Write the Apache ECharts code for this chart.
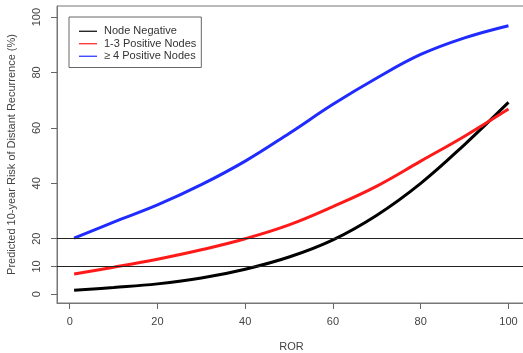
<!DOCTYPE html>
<html>
<head>
<meta charset="utf-8">
<script src="https://cdn.jsdelivr.net/npm/echarts@6/dist/echarts.min.js"></script>
<style>html,body{margin:0;padding:0;background:#fff}#c{width:523px;height:353px}</style>
</head>
<body>
<div id="c"></div>
<script>
const ror = [1, 10, 20, 30, 40, 50, 60, 70, 80, 90, 100];
const nodeNegative = [1.4, 2.4, 3.7, 5.8, 9.0, 13.4, 19.6, 28.5, 40.0, 54.0, 69.2];
const pos1to3 = [7.3, 9.7, 12.6, 16.0, 20.0, 25.0, 31.6, 39.0, 48.0, 57.0, 66.8];
const pos4plus = [20.2, 26.0, 32.2, 39.5, 48.0, 58.0, 68.5, 78.0, 86.5, 92.5, 96.9];
const seriesNames = ['Node Negative', '1-3 Positive Nodes', '\u2265 4 Positive Nodes'];
const yTicks = [0, 10, 20, 40, 60, 80, 100];
const xTicks = [0, 20, 40, 60, 80, 100];
const refLines = [10, 20];

const font = 'Liberation Sans, Arial, sans-serif';
const pair = (ys) => ror.map((x, i) => [x, ys[i]]);
const chart = echarts.init(document.getElementById('c'), null, {renderer: 'canvas'});
chart.setOption({
  animation: false,
  backgroundColor: '#fff',
  textStyle: {fontFamily: font},
  grid: {left: 57, right: -3, top: 6, bottom: 50, show: true, borderColor: '#777', borderWidth: 1,
         containLabel: false, outerBoundsMode: 'none'},
  legend: {
    orient: 'vertical', left: 69, top: 17,
    icon: 'rect', itemWidth: 18, itemHeight: 1.2, itemGap: 0,
    padding: [8, 5, 5, 10],
    borderColor: '#666', borderWidth: 1, backgroundColor: '#fff',
    textStyle: {fontFamily: font, fontSize: 11, color: '#333', lineHeight: 12.5, padding: [0, 0, 0, 2]},
    data: seriesNames
  },
  xAxis: {
    type: 'value', min: -2.9, max: 104,
    name: 'ROR', nameLocation: 'middle', nameGap: 38,
    nameTextStyle: {fontFamily: font, fontSize: 11, color: '#444'},
    axisLine: {show: true, onZero: false, lineStyle: {color: '#777'}},
    axisTick: {show: true, length: 6, lineStyle: {color: '#666'}, customValues: xTicks},
    axisLabel: {fontFamily: font, fontSize: 11, color: '#444', margin: 13, customValues: xTicks, showMinLabel: true, showMaxLabel: true},
    splitLine: {show: false}
  },
  yAxis: {
    type: 'value', min: -3.2, max: 104,
    name: 'Predicted 10-year Risk of Distant Recurrence (%)', nameLocation: 'middle', nameGap: 40,
    nameTextStyle: {fontFamily: font, fontSize: 11, color: '#444'},
    axisLine: {show: true, onZero: false, lineStyle: {color: '#777'}},
    axisTick: {show: true, length: 6, lineStyle: {color: '#666'}, customValues: yTicks},
    axisLabel: {fontFamily: font, fontSize: 11, color: '#444', rotate: 90, margin: 15, customValues: yTicks},
    splitLine: {show: false}
  },
  series: [
    {name: seriesNames[0], type: 'line', data: pair(nodeNegative), smooth: 0.4, symbol: 'none',
     lineStyle: {color: '#000', width: 3}, itemStyle: {color: '#000'},
     markLine: {silent: true, symbol: 'none', label: {show: false},
       lineStyle: {color: '#222', width: 1, type: 'solid'},
       data: refLines.map(v => ({yAxis: v}))}},
    {name: seriesNames[1], type: 'line', data: pair(pos1to3), smooth: 0.4, symbol: 'none',
     lineStyle: {color: '#ff1a1a', width: 3}, itemStyle: {color: '#ff1a1a'}},
    {name: seriesNames[2], type: 'line', data: pair(pos4plus), smooth: 0.4, symbol: 'none',
     lineStyle: {color: '#1f2bff', width: 3}, itemStyle: {color: '#1f2bff'}}
  ]
});
</script>
</body>
</html>
